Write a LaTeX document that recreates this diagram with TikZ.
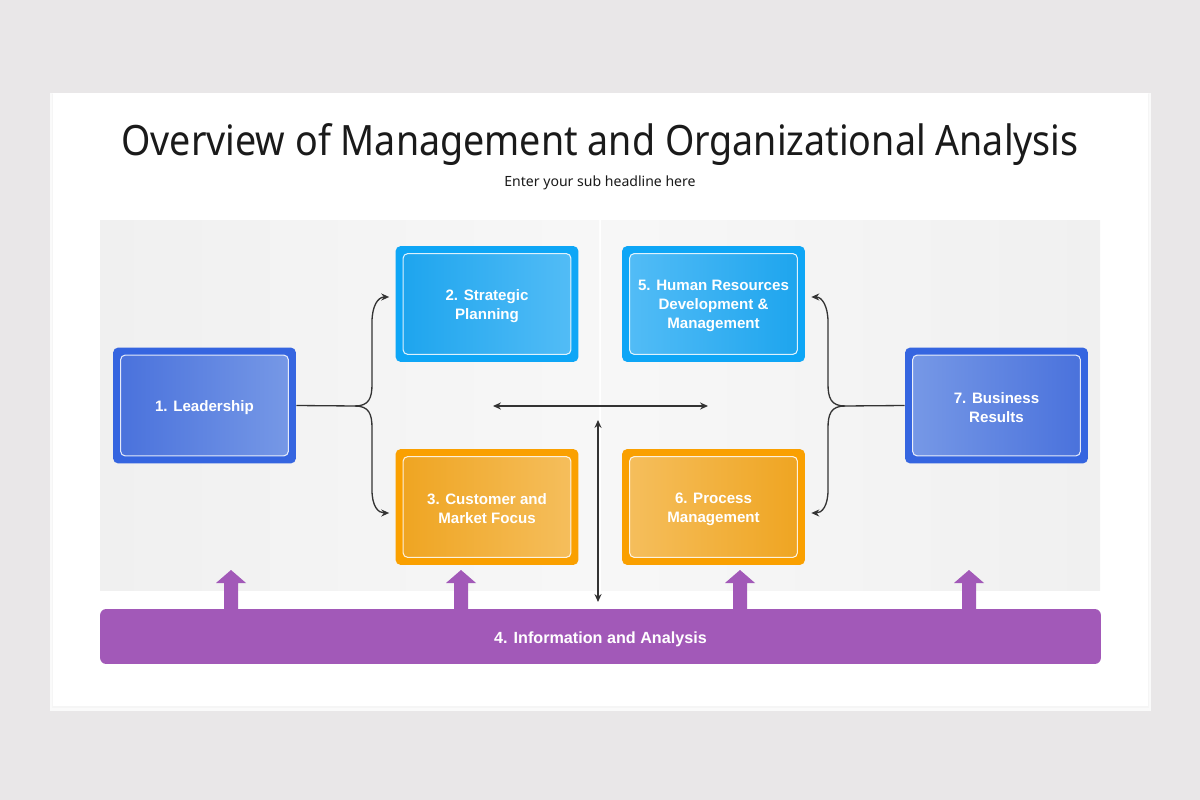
\documentclass[tikz,border=0pt]{standalone}
\usepackage{fontspec}
\setmainfont{Noto Sans}
\newfontfamily\titlefont{Noto Sans}[FakeStretch=0.9]
\newfontfamily\lblfont{Liberation Sans}
\usetikzlibrary{arrows.meta}
\definecolor{bgc}{HTML}{E9E7E8}
\definecolor{panelc}{HTML}{F0F0F0}
\definecolor{bluedk}{HTML}{3565E0}
\definecolor{bluedkA}{HTML}{4A72DC}
\definecolor{bluedkB}{HTML}{7698E6}
\definecolor{sky}{HTML}{0EA6F6}
\definecolor{skyA}{HTML}{1EA5EE}
\definecolor{skyB}{HTML}{52BCF6}
\definecolor{orng}{HTML}{FAA000}
\definecolor{orngA}{HTML}{EFA522}
\definecolor{orngB}{HTML}{F5BE5C}
\definecolor{purp}{HTML}{A259B8}
\definecolor{conc}{HTML}{333333}
\definecolor{titlec}{HTML}{1A1A1A}
\tikzset{
  box/.style={rounded corners=3pt, inner sep=0pt, minimum width=3.66cm, minimum height=2.32cm},
  innerbox/.style={rounded corners=2.5pt, draw=white, draw opacity=0.85, line width=0.6pt},
  lbl/.style={text=white, font=\lblfont\fontsize{8.6}{10.8}\selectfont\bfseries, align=center, yshift=-0.04cm},
  conn/.style={draw=conc, line width=0.75pt, -{Stealth[length=4.5pt,width=4pt]}},
  dconn/.style={draw=conc, line width=0.75pt, {Stealth[length=4.5pt,width=4pt]}-{Stealth[length=4.5pt,width=4pt]}},
}
\begin{document}
\begin{tikzpicture}[x=0.02cm,y=-0.02cm]
\useasboundingbox (0,0) rectangle (1200,800);
\fill[bgc] (0,0) rectangle (1200,800);
% card shadow
\fill[black!2] (50,93) rectangle (1151,711);
\fill[black!4] (52,94) rectangle (1149,708);
\fill[white] (53,93) rectangle (1148,706);
% title
\node[text=titlec, font=\titlefont\fontsize{23.8}{28}\selectfont] (title) at (600,145) {Overview of Management and Organizational Analysis};
\node[text=titlec, font=\fontsize{8.0}{10}\selectfont] (sub) at (600,183) {Enter your sub headline here};
% panels
\shade[left color=panelc, right color=white!97!black] (100,221) rectangle (599,590);
\shade[left color=white!97!black, right color=panelc] (601,221) rectangle (1100,590);
% boxes
\node[box, fill=bluedk] (n1) at (204.5,405.5) {};
\node[box, fill=sky] (n2) at (487,304) {};
\node[box, fill=orng] (n3) at (487,507) {};
\node[box, fill=sky] (n5) at (713.5,304) {};
\node[box, fill=orng] (n6) at (713.5,507) {};
\node[box, fill=bluedk] (n7) at (996.5,405.5) {};
\path[innerbox, left color=bluedkA, right color=bluedkB] ([shift={(8,8)}]n1.north west) rectangle ([shift={(-8,-8)}]n1.south east);
\path[innerbox, left color=skyA, right color=skyB] ([shift={(8,8)}]n2.north west) rectangle ([shift={(-8,-8)}]n2.south east);
\path[innerbox, left color=orngA, right color=orngB] ([shift={(8,8)}]n3.north west) rectangle ([shift={(-8,-8)}]n3.south east);
\path[innerbox, left color=skyB, right color=skyA] ([shift={(8,8)}]n5.north west) rectangle ([shift={(-8,-8)}]n5.south east);
\path[innerbox, left color=orngB, right color=orngA] ([shift={(8,8)}]n6.north west) rectangle ([shift={(-8,-8)}]n6.south east);
\path[innerbox, left color=bluedkB, right color=bluedkA] ([shift={(8,8)}]n7.north west) rectangle ([shift={(-8,-8)}]n7.south east);
\node[lbl] (t1) at (n1) {1. Leadership};
\node[lbl] (t2) at (n2) {2. Strategic\\Planning};
\node[lbl] (t3) at (n3) {3. Customer and\\Market Focus};
\node[lbl] (t5) at (n5) {5. Human Resources\\Development \&\\Management};
\node[lbl] (t6) at (n6) {6. Process\\Management};
\node[lbl] (t7) at (n7) {7. Business\\Results};
% braces left
\coordinate (bl) at (355,406);
\coordinate (a2) at ([shift={(-6,-7)}]n2.west);
\coordinate (a3) at ([shift={(-6,6)}]n3.west);
\draw[conc, line width=0.75pt] (n1.east) -- (bl);
\draw[conn] (bl) .. controls (369,406) and (372,398) .. (372,384) -- (372,322) .. controls (372,306) and (378,297) .. (a2);
\draw[conn] (bl) .. controls (369,406) and (372,414) .. (372,428) -- (372,490) .. controls (372,506) and (378,513) .. (a3);
% braces right
\coordinate (br) at (845,406);
\coordinate (a5) at ([shift={(6,-7)}]n5.east);
\coordinate (a6) at ([shift={(6,6)}]n6.east);
\draw[conc, line width=0.75pt] (n7.west) -- (br);
\draw[conn] (br) .. controls (831,406) and (828,398) .. (828,384) -- (828,322) .. controls (828,306) and (822,297) .. (a5);
\draw[conn] (br) .. controls (831,406) and (828,414) .. (828,428) -- (828,490) .. controls (828,506) and (822,513) .. (a6);
% double arrows
\coordinate (h1) at (493,406);
\coordinate (h2) at (708,406);
\draw[dconn] (h1) -- (h2);
\coordinate (v1) at (598,420);
\coordinate (v2) at (598,602);
\draw[dconn] (v1) -- (v2);
% purple bar
\node[fill=purp, rounded corners=3.5pt, inner sep=0pt, minimum width=20.02cm, minimum height=1.1cm] (info) at (600.5,636.5) {};
\node[text=white, font=\lblfont\fontsize{9.2}{11}\selectfont\bfseries] (infot) at ([yshift=-0.05cm]info.center) {4. Information and Analysis};
\foreach \xx in {231,461,740,969}{
  \fill[purp] (\xx-7,611) -- (\xx-7,583) -- (\xx-15,583) -- (\xx,570) -- (\xx+15,583) -- (\xx+7,583) -- (\xx+7,611) -- cycle;
}
\end{tikzpicture}
\end{document}
